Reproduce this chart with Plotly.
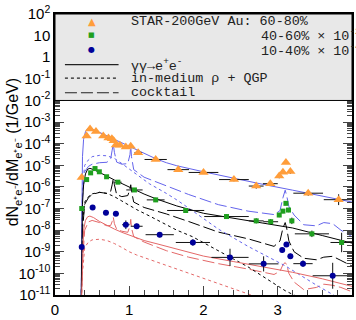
import plotly.graph_objects as go

# ---------------- data (log10 of dN/dM) ----------------
# STAR 200 GeV Au+Au 60-80% (orange triangles)
m_6080 = [0.36, 0.426, 0.472, 0.552, 0.65, 0.72, 0.766, 0.79, 0.82, 0.874, 0.954, 1.02, 1.12,
          1.356, 1.66, 2.0, 2.41, 2.71, 2.9, 3.02, 3.07, 3.11, 3.17, 3.41, 3.82]
lg_6080 = [-5.56, -3.64, -3.32, -3.44, -3.64, -3.74, -3.77, -3.86, -4.06, -4.07, -4.15, -4.12, -4.42,
           -4.73, -5.2, -5.33, -5.66, -5.96, -5.85, -5.5, -5.32, -4.87, -5.29, -6.29, -6.59]
dm_6080 = [0, 0, 0, 0, 0, 0, 0, 0, 0.02, 0.03, 0.05, 0.03, 0.05,
           0.15, 0.145, 0.2, 0.2, 0.1, 0.1, 0.02, 0.02, 0.02, 0.03, 0.2, 0.2]
dl_6080 = [0.08, 0.04, 0.03, 0.03, 0.03, 0.03, 0.03, 0.03, 0.04, 0.04, 0.05, 0.05, 0.05,
           0.06, 0.07, 0.07, 0.08, 0.12, 0.1, 0.1, 0.08, 0.06, 0.1, 0.12, 0.25]

# 40-60% x 1e-2 (green squares)
m_4060 = [0.36, 0.426, 0.48, 0.539, 0.597, 0.695, 0.847, 1.07, 1.356, 1.76, 2.31, 2.71, 2.905,
          3.02, 3.07, 3.11, 3.145, 3.19, 3.46, 3.86]
lg_4060 = [-7.0, -5.66, -5.35, -5.15, -5.30, -5.53, -5.78, -6.14, -6.6, -7.09, -7.37, -7.57, -7.61,
           -7.30, -7.12, -6.76, -7.07, -7.57, -8.17, -8.57]
dm_4060 = [0, 0, 0, 0, 0, 0.02, 0.05, 0.11, 0.12, 0.25, 0.3, 0.1, 0.1,
           0.02, 0.02, 0.02, 0.02, 0.03, 0.23, 0.15]
dl_4060 = [0.1, 0.04, 0.04, 0.04, 0.04, 0.05, 0.06, 0.07, 0.1, 0.1, 0.1, 0.12, 0.12,
           0.1, 0.1, 0.08, 0.1, 0.15, 0.15, 0.45]

# 10-40% x 1e-4 (navy circles)
m_1040 = [0.36, 0.507, 0.686, 0.82, 0.954, 1.10, 1.41, 1.857, 2.357, 2.81, 3.06, 3.117, 3.17, 3.34, 3.74]
lg_1040 = [-8.78, -6.95, -7.19, -7.24, -7.75, -7.82, -8.21, -8.57, -9.26, -9.56, -8.92, -8.66, -9.21,
           -9.55, -10.11]
dm_1040 = [0, 0.03, 0.04, 0.04, 0.05, 0.08, 0.19, 0.23, 0.25, 0.2, 0.02, 0.02, 0.02, 0.13, 0.27]
dl_1040 = [0.12, 0.06, 0.12, 0.08, 0.2, 0.12, 0.12, 0.15, 0.4, 0.35, 0.12, 0.1, 0.12, 0.15, 0.6]

# ---------------- model curves ----------------
# gamma gamma -> e+e-
gg_m = [0.35, 0.36, 0.37, 0.385, 0.41, 0.44, 0.47, 0.52, 0.6, 0.7, 0.8, 0.9, 1.0, 1.1, 1.2,
        1.36, 1.5, 1.64, 2.0, 2.4, 2.8, 3.2, 3.6, 4.0]
gg_6080 = [-12, -6.5, -4.6, -3.8, -3.45, -3.3, -3.28, -3.35, -3.48, -3.65, -3.82, -3.98, -4.12, -4.3, -4.45,
           -4.7, -4.88, -5.02, -5.3, -5.6, -5.88, -6.15, -6.42, -6.7]
gg_4060 = [-12, -8.5, -6.8, -5.9, -5.4, -5.18, -5.14, -5.2, -5.32, -5.5, -5.68, -5.85, -6.0, -6.17, -6.33,
           -6.55, -6.72, -6.88, -7.22, -7.45, -7.65, -7.9, -8.25, -8.6]
gg_1040 = [-12, -10.5, -9.0, -8.0, -7.55, -7.38, -7.35, -7.42, -7.6, -7.78, -7.95, -8.1, -8.22, -8.35, -8.48,
           -8.62, -8.75, -8.88, -9.2, -9.45, -9.7, -9.95, -10.25, -10.6]

# in-medium rho + QGP
im_m = [0.35, 0.37, 0.4, 0.45, 0.5, 0.6, 0.7, 0.8, 0.9, 1.0, 1.1, 1.27, 1.5, 1.64, 1.85, 2.2, 2.6,
        3.1, 3.5, 3.8]
im_6080 = [-12, -6.0, -5.0, -4.75, -4.6, -4.54, -4.56, -4.68, -4.92, -5.18, -5.45, -5.85, -6.3, -6.6,
           -7.1, -7.95, -8.75, -9.65, -10.5, -11.1]
im_4060 = [-12, -7.8, -6.7, -6.45, -6.32, -6.25, -6.3, -6.45, -6.65, -6.85, -7.05, -7.34, -7.75, -8.0,
           -8.3, -8.95, -9.7, -10.8, -11.5, -12]
im_1040 = [-12, -10.0, -8.8, -8.55, -8.45, -8.42, -8.48, -8.62, -8.8, -9.0, -9.15, -9.35, -9.65, -9.8,
           -10.05, -10.45, -10.95, -11.5, -12, -12]

# cocktail
ck_m = [0.35, 0.37, 0.4, 0.45, 0.5, 0.6, 0.7, 0.75, 0.77, 0.785, 0.8, 0.83, 0.9, 0.98, 1.01, 1.02,
        1.03, 1.06, 1.2, 1.5, 1.8, 2.2, 2.6, 2.95, 3.03, 3.07, 3.1, 3.12, 3.15, 3.22, 3.35, 3.52, 3.62,
        3.74, 3.85, 4.0]
ck_6080 = [-12, -6.5, -5.3, -5.05, -4.95, -4.88, -4.86, -4.7, -4.3, -4.0, -4.4, -4.85, -4.95, -4.92, -4.5,
           -4.1, -4.6, -5.2, -5.55, -5.95, -6.35, -6.82, -7.12, -7.28, -7.1, -6.5, -6.15, -6.4, -6.9,
           -7.3, -7.75, -7.8, -7.65, -7.7, -8.0, -8.3]
ck_4060 = [-12, -8.0, -6.8, -6.5, -6.35, -6.25, -6.3, -6.2, -5.9, -5.62, -5.9, -6.35, -6.45, -6.4, -6.1,
           -5.9, -6.2, -6.7, -6.95, -7.25, -7.6, -8.09, -8.4, -8.75, -8.5, -7.9, -7.65, -7.9, -8.5,
           -9.0, -9.3, -9.37, -9.25, -9.21, -9.4, -9.66]
ck_1040 = [-12, -9.5, -8.0, -7.62, -7.55, -7.65, -7.8, -7.78, -7.6, -7.4, -7.7, -7.95, -8.05, -8.1, -7.8,
           -7.5, -7.9, -8.3, -8.55, -8.95, -9.25, -9.55, -9.8, -10.05, -9.9, -9.6, -9.5, -9.6, -10.0,
           -10.4, -10.75, -10.65, -10.5, -10.55, -10.65, -10.85]

# axis ticks
y_tickvals_exp = list(range(-11, 3))
y_ticktext = ["10<sup>-11</sup>", "10<sup>-10</sup>", "10<sup>-9</sup>", "10<sup>-8</sup>",
              "10<sup>-7</sup>", "10<sup>-6</sup>", "10<sup>-5</sup>", "10<sup>-4</sup>",
              "10<sup>-3</sup>", "10<sup>-2</sup>", "10<sup>-1</sup>", "1", "10", "10<sup>2</sup>"]
x_tickvals = [0, 1, 2, 3, 4]

# legend texts
leg_data = ["STAR-200GeV Au: 60-80%", "40-60% × 10<sup>-2</sup>", "10-40% × 10<sup>-4</sup>"]
leg_lines = ["γγ→e<sup>+</sup>e<sup>-</sup>", "in-medium ρ + QGP", "cocktail"]

# ---------------- styling ----------------
C_BLUE = "#6464ec"
C_BLACK = "#000000"
C_RED = "#e46868"
C_OR = "#ff9d3a"
C_GR = "#1f9f1f"
C_NV = "#000099"
DASH_IM = "3px,3px"
DASH_CK = "12px,4px"

fig = go.Figure()


def tolin(v):
    return [10 ** a for a in v]


def add_curve(x, lg, color, dash):
    fig.add_trace(go.Scatter(x=x, y=tolin(lg), mode="lines",
                             line=dict(color=color, width=1, dash=dash),
                             showlegend=False, hoverinfo="skip"))


for lg, col in [(ck_6080, C_BLUE), (ck_4060, C_BLACK), (ck_1040, C_RED)]:
    add_curve(ck_m, lg, col, DASH_CK)
for lg, col in [(im_6080, C_BLUE), (im_4060, C_BLACK), (im_1040, C_RED)]:
    add_curve(im_m, lg, col, DASH_IM)
for lg, col in [(gg_6080, C_BLUE), (gg_4060, C_BLACK), (gg_1040, C_RED)]:
    add_curve(gg_m, lg, col, "solid")


def add_data(m, lg, dm, dl, color, symbol, size):
    y = tolin(lg)
    plus = [10 ** (a + d) - 10 ** a for a, d in zip(lg, dl)]
    minus = [10 ** a - 10 ** (a - d) for a, d in zip(lg, dl)]
    fig.add_trace(go.Scatter(
        x=m, y=y, mode="markers",
        marker=dict(color=color, symbol=symbol, size=size, line=dict(width=0)),
        error_x=dict(type="data", array=dm, color="#111111", thickness=1, width=0),
        error_y=dict(type="data", array=plus, arrayminus=minus, symmetric=False,
                     color="#111111", thickness=1, width=0),
        showlegend=False, hoverinfo="skip"))


add_data(m_6080, lg_6080, dm_6080, dl_6080, C_OR, "triangle-up", 9)
add_data(m_4060, lg_4060, dm_4060, dl_4060, C_GR, "square", 5)
add_data(m_1040, lg_1040, dm_1040, dl_1040, C_NV, "circle", 6)

W, H = 356, 320
ML, MR, MT, MB = 55, 2, 14, 17
PW, PH = W - ML - MR, H - MT - MB


def px(xp):
    return (xp - ML) / PW


def py(yp):
    return 1 - (yp - MT) / PH


shapes = [dict(type="rect", xref="paper", yref="paper", x0=0, x1=1, y0=9 / 13, y1=1,
               fillcolor="#e8e8e8", line=dict(color="#000000", width=1), layer="above")]
for yp, dash in [(66, "solid"), (80, DASH_IM), (95, DASH_CK)]:
    shapes.append(dict(type="line", xref="paper", yref="paper", x0=px(65), x1=px(119),
                       y0=py(yp), y1=py(yp), line=dict(color="#222222", width=1.2, dash=dash),
                       layer="above"))

MONO = "Liberation Mono"
ann = []
for txt, xp, yp in [(leg_data[0], 130, 22), (leg_data[1], 260, 36), (leg_data[2], 260, 51),
                    (leg_lines[0], 130, 66), (leg_lines[1], 130, 80), (leg_lines[2], 130, 95)]:
    ann.append(dict(text=txt, xref="paper", yref="paper", x=px(xp), y=py(yp), xanchor="left",
                    yanchor="middle", showarrow=False, font=dict(family=MONO, size=13.4, color="#222222")))
for glyph, col, sz, yp in [("▲", C_OR, 10, 22), ("■", C_GR, 7, 36), ("●", C_NV, 8, 51)]:
    ann.append(dict(text=glyph, xref="paper", yref="paper", x=px(92), y=py(yp), xanchor="center",
                    yanchor="middle", showarrow=False, font=dict(family="DejaVu Sans", size=sz, color=col)))
ann.append(dict(text="dN<sub>e⁺e⁻</sub>/dM<sub>e⁺e⁻</sub> (1/GeV)", xref="paper", yref="paper",
                x=px(13), y=py(156), xanchor="center", yanchor="middle", textangle=-90,
                showarrow=False, font=dict(family="Liberation Sans", size=16, color="#000000")))

fig.update_layout(
    width=W, height=H, margin=dict(l=ML, r=MR, t=MT, b=MB, pad=0),
    paper_bgcolor="white", plot_bgcolor="white",
    font=dict(family="Liberation Sans", size=15, color="#000000"),
    shapes=shapes, annotations=ann, showlegend=False,
    xaxis=dict(range=[0, 4], tickvals=x_tickvals, ticks="inside", ticklen=9, tickwidth=1,
               showgrid=False, zeroline=False, showline=True, linecolor="black", linewidth=1.5,
               mirror="ticks", tickfont=dict(size=15),
               minor=dict(ticks="inside", ticklen=5, dtick=0.2, showgrid=False)),
    yaxis=dict(type="log", range=[-11, 2], tickvals=[10 ** e for e in y_tickvals_exp],
               ticktext=y_ticktext, ticks="inside", ticklen=9, tickwidth=1,
               showgrid=False, zeroline=False, showline=True, linecolor="black", linewidth=1.5,
               mirror="ticks", tickfont=dict(size=15),
               minor=dict(ticks="inside", ticklen=5, dtick="D1", showgrid=False)),
)

fig.write_html("out.html")
